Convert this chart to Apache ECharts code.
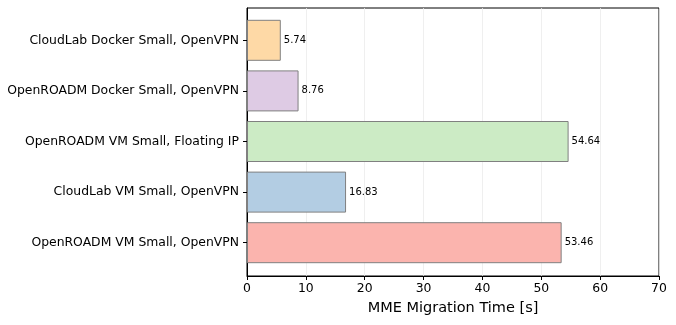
<!DOCTYPE html>
<html>
<head>
<meta charset="utf-8">
<script src="https://cdn.jsdelivr.net/npm/echarts@6/dist/echarts.min.js"></script>
<style>
  html, body { margin: 0; padding: 0; background: #fff; }
  #chart { width: 676px; height: 325px; }
</style>
</head>
<body>
<div id="chart"></div>
<script>
// categories top to bottom
var categories = [
  "CloudLab Docker Small, OpenVPN",
  "OpenROADM Docker Small, OpenVPN",
  "OpenROADM VM Small, Floating IP",
  "CloudLab VM Small, OpenVPN",
  "OpenROADM VM Small, OpenVPN"
];
var times = [5.74, 8.76, 54.64, 16.83, 53.46];
var barColors = ["#fed9a6", "#decbe4", "#ccebc5", "#b3cde3", "#fbb4ae"];
var xTicks = [0, 10, 20, 30, 40, 50, 60, 70];

var font = "DejaVu Sans";
var myChart = echarts.init(document.getElementById("chart"));

var option = {
  animation: false,
  textStyle: { fontFamily: font },
  grid: [
    // frame + x axis
    { left: 247, right: 17, top: 8, bottom: 49, show: true, borderColor: "#000", borderWidth: 1, backgroundColor: "transparent" },
    // bars (inset like matplotlib's margins)
    { left: 247, right: 17, top: 15, bottom: 57 }
  ],
  xAxis: [
    {
      type: "value",
      gridIndex: 0,
      min: xTicks[0],
      max: xTicks[xTicks.length - 1],
      interval: 10,
      axisLine: { show: true, lineStyle: { color: "#000", width: 1 } },
      axisTick: { show: true, length: 4, lineStyle: { color: "#000" } },
      axisLabel: { color: "#000", fontSize: 12.4, fontFamily: font, margin: 7 },
      splitLine: { show: true, lineStyle: { color: "#ebebeb", width: 0.8 } },
      name: "MME Migration Time [s]",
      nameLocation: "middle",
      nameGap: 25,
      nameTextStyle: { color: "#000", fontSize: 14.5, fontFamily: font }
    },
    {
      type: "value",
      gridIndex: 1,
      min: xTicks[0],
      max: xTicks[xTicks.length - 1],
      show: false
    }
  ],
  yAxis: [
    {
      type: "value",
      gridIndex: 0,
      min: 0,
      max: 1,
      axisLine: { show: true, lineStyle: { color: "#000", width: 1 } },
      axisTick: { show: false },
      axisLabel: { show: false },
      splitLine: { show: false }
    },
    {
      type: "category",
      gridIndex: 1,
      inverse: true,
      data: categories,
      axisLine: { show: false },
      axisTick: { show: true, alignWithLabel: true, length: 4, lineStyle: { color: "#000" } },
      axisLabel: { color: "#000", fontSize: 12.4, fontFamily: font, margin: 8 },
      splitLine: { show: false }
    }
  ],
  series: [
    {
      type: "bar",
      xAxisIndex: 1,
      yAxisIndex: 1,
      barWidth: 41,
      data: times.map(function (v, i) {
        return {
          value: v,
          itemStyle: { color: barColors[i], borderColor: "#808080", borderWidth: 1 }
        };
      }),
      label: {
        show: true,
        position: "right",
        distance: 3,
        color: "#000",
        fontSize: 10,
        fontFamily: font
      }
    }
  ]
};

myChart.setOption(option);
</script>
</body>
</html>
